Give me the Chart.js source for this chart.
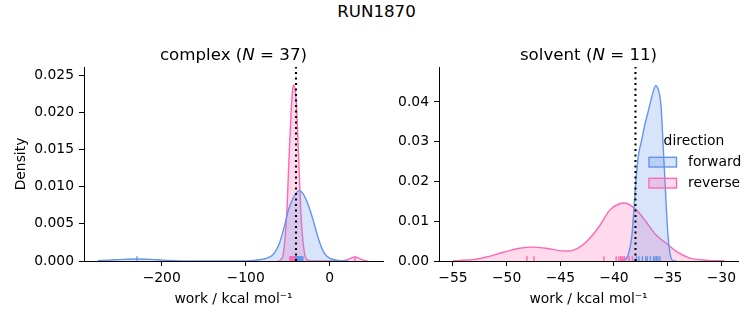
<!DOCTYPE html>
<html>
<head>
<meta charset="utf-8">
<script src="https://cdn.jsdelivr.net/npm/chart.js@4.4.1/dist/chart.umd.min.js"></script>
<style>
  html, body { margin: 0; padding: 0; background: #fff; }
  #wrap { position: relative; width: 753px; height: 325px; overflow: hidden; }
  #suptitle { position: absolute; left: 0; top: 2px; width: 753px; text-align: center;
              font-family: 'DejaVu Sans'; font-size: 16.67px; line-height: 20px; color: #000; }
  canvas { position: absolute; top: 0; }
</style>
</head>
<body>
<div id="wrap">
  <div id="suptitle">RUN1870</div>
  <canvas id="complexChart" width="390" height="325" style="left:0;width:390px;height:325px"></canvas>
  <canvas id="solventChart" width="373" height="325" style="left:380px;width:373px;height:325px"></canvas>
</div>
<script>
// ---- complex panel: KDE curves ----
const complexForwardX = [-276, -262, -246, -230, -214, -198, -184, -170, -150, -120, -100, -90, -82, -77, -69, -64, -59.5, -56.5, -53.6, -48.8, -43.7, -40, -36.1, -32, -28.6, -23.8, -21, -17.9, -15, -11.9, -8, -4, 0, 4, 10, 16, 22];
const complexForwardY = [0.00004, 0.00012, 0.00022, 0.00027, 0.00022, 0.00012, 0.00005, 0.00001, 0, 0, 0.00002, 0.00008, 0.0002, 0.0003, 0.0007, 0.0014, 0.0025, 0.0036, 0.0048, 0.0070, 0.0084, 0.0091, 0.0095, 0.0091, 0.0084, 0.0070, 0.0060, 0.0048, 0.0036, 0.0025, 0.0014, 0.0007, 0.0004, 0.0002, 0.00006, 0.00001, 0];
const complexReverseX = [-62, -59.5, -57.5, -55.6, -52.8, -50.8, -49.2, -47.6, -45.6, -44, -42.9, -41.5, -40.5, -39.3, -37.7, -36.1, -34.5, -32.5, -29.4, -27, -24, -20, 10, 16, 20, 24, 27, 30, 33, 36, 40, 44, 45];
const complexReverseY = [0, 0.00005, 0.0003, 0.0007, 0.0035, 0.0070, 0.0116, 0.0160, 0.0206, 0.0232, 0.0237, 0.0232, 0.0224, 0.0206, 0.0160, 0.0116, 0.0070, 0.0035, 0.0007, 0.0002, 0.00003, 0, 0, 0.00003, 0.00012, 0.0003, 0.00046, 0.00056, 0.00046, 0.0003, 0.00012, 0.00003, 0];
const complexForwardRug = [-229.4, -40.4, -39.6, -38.9, -38.1, -37.4, -36.6, -35.8, -35.0, -34.3, -33.5, -32.7, -31.9];
const complexReverseRug = [-47.5, -46.8, -46.0, -45.3, -44.8, -44.1, -43.6, -43.0, -42.5, -42.0, -41.6, -41.1, -40.6, 30.1];
const complexFreeEnergy = -40.1;
const complexXRange = [-292.5, 63.5];
const complexYMax = 0.0261;
const complexXTicks = [-200, -100, 0];
const complexYTicks = [0, 0.005, 0.010, 0.015, 0.020, 0.025];

// ---- solvent panel ----
const solventForwardX = [-39.4, -39.17, -38.7, -38.33, -38.14, -37.92, -37.67, -37.45, -37.14, -36.74, -36.43, -36.12, -35.75, -35.6, -35.44, -35.28, -35.12, -34.97, -34.75, -34.5, -34.2];
const solventForwardY = [0, 0.0001, 0.0014, 0.0065, 0.0132, 0.0216, 0.0275, 0.0300, 0.0342, 0.0384, 0.0418, 0.0441, 0.0418, 0.0384, 0.0300, 0.0216, 0.0132, 0.0065, 0.0014, 0.0001, 0];
const solventReverseX = [-55.0, -54, -53.1, -51.9, -50.3, -48.8, -47.6, -46.3, -45.1, -44.3, -43.2, -42.3, -41.3, -40.4, -39.5, -39.0, -37.9, -37.0, -36.1, -35.1, -34.2, -33.0, -31.4, -29.7];
const solventReverseY = [0.00005, 0.0002, 0.00035, 0.0010, 0.0022, 0.0032, 0.0035, 0.0032, 0.0026, 0.0025, 0.0035, 0.0056, 0.0090, 0.0128, 0.0144, 0.0146, 0.0128, 0.0098, 0.0066, 0.0044, 0.0024, 0.0008, 0.0002, 0.00002];
const solventForwardRug = [-37.9, -37.68, -37.36, -37.05, -36.9, -36.61, -36.3, -36.18, -36.03, -35.9, -35.72];
const solventReverseRug = [-48.11, -47.46, -40.94, -39.8, -39.54, -39.38, -39.25, -39.17, -39.03, -38.6, -38.29];
const solventFreeEnergy = -38.0;
const solventXRange = [-56.3, -28.45];
const solventYMax = 0.0488;
const solventXTicks = [-55, -50, -45, -40, -35, -30];
const solventYTicks = [0, 0.01, 0.02, 0.03, 0.04];

const directions = ['forward', 'reverse'];
const BLUE = '#6495ED';
const PINK = '#FF69B4';
const BLUE_FILL = 'rgba(100,149,237,0.25)';
const PINK_FILL = 'rgba(255,105,180,0.25)';
const FONT = 'DejaVu Sans';

const pts = (xs, ys) => xs.map((x, i) => ({ x: x, y: ys[i] }));
const fmt = (v, d) => (v < 0 ? '\u2212' : '') + Math.abs(v).toFixed(d);

// title with italic N (matplotlib mathtext)
const panelTitle = {
  id: 'panelTitle',
  afterDraw(chart, args, opts) {
    const { ctx, chartArea } = chart;
    ctx.save();
    ctx.fillStyle = '#000';
    ctx.textBaseline = 'alphabetic';
    const fonts = opts.parts.map(p => (p[1] ? 'italic ' : '') + '16.67px "' + FONT + '"');
    const widths = opts.parts.map((p, i) => { ctx.font = fonts[i]; return ctx.measureText(p[0]).width; });
    let x = (chartArea.left + chartArea.right) / 2 - widths.reduce((a, b) => a + b, 0) / 2;
    const y = chartArea.top - 7.3;
    opts.parts.forEach((p, i) => { ctx.font = fonts[i]; ctx.fillText(p[0], x, y); x += widths[i]; });
    ctx.restore();
  }
};

// rug ticks, drawn once the KDE layers are down (dataset 0 is the dotted line)
const rug = {
  id: 'rug',
  afterDatasetDraw(chart, args, opts) {
    if (args.index !== 1) return;
    const { ctx, chartArea, scales } = chart;
    const h = (chartArea.bottom - chartArea.top) * 0.025;
    ctx.save();
    ctx.lineWidth = 1.4;
    opts.sets.forEach(set => {
      ctx.strokeStyle = set.color;
      set.values.forEach(v => {
        const x = scales.x.getPixelForValue(v);
        ctx.beginPath();
        ctx.moveTo(x, chartArea.bottom);
        ctx.lineTo(x, chartArea.bottom - h);
        ctx.stroke();
      });
    });
    ctx.restore();
  }
};

// seaborn-style hue legend, no frame
const hueLegend = {
  id: 'hueLegend',
  afterDraw(chart, args, opts) {
    if (!opts.show) return;
    const { ctx, chartArea } = chart;
    const left = chartArea.right - 89;
    ctx.save();
    ctx.fillStyle = '#000';
    ctx.font = '13.89px "' + FONT + '"';
    ctx.textAlign = 'center';
    ctx.textBaseline = 'middle';
    ctx.fillText('direction', chartArea.right - 44, chartArea.top + 74.5);
    const items = [[directions[0], BLUE, BLUE_FILL], [directions[1], PINK, PINK_FILL]];
    items.forEach((it, i) => {
      const top = chartArea.top + 90.3 + i * 21;
      ctx.fillStyle = it[2];
      ctx.fillRect(left, top, 27.5, 9.7);
      ctx.strokeStyle = it[1];
      ctx.lineWidth = 1.4;
      ctx.strokeRect(left, top, 27.5, 9.7);
      ctx.fillStyle = '#000';
      ctx.textAlign = 'left';
      ctx.fillText(it[0], left + 39, top + 5);
    });
    ctx.restore();
  }
};

function panel(id, o) {
  const tickFont = { family: FONT, size: 13.89 };
  return new Chart(document.getElementById(id), {
    type: 'line',
    data: {
      datasets: [
        { data: [{ x: o.dG, y: 0 }, { x: o.dG, y: o.yMax }], borderColor: '#000', borderWidth: 2.1,
          borderDash: [2.1, 3.4], fill: false, pointRadius: 0, tension: 0 },
        { label: directions[0], data: pts(o.fx, o.fy), borderColor: BLUE, backgroundColor: BLUE_FILL,
          borderWidth: 1.4, fill: 'origin', pointRadius: 0, cubicInterpolationMode: 'monotone' },
        { label: directions[1], data: pts(o.rx, o.ry), borderColor: PINK, backgroundColor: PINK_FILL,
          borderWidth: 1.4, fill: 'origin', pointRadius: 0, cubicInterpolationMode: 'monotone' }
      ]
    },
    options: {
      responsive: false,
      devicePixelRatio: 1,
      animation: false,
      events: [],
      layout: { padding: { top: 67, right: o.padRight, left: 0, bottom: 0 } },
      plugins: {
        legend: { display: false },
        tooltip: { enabled: false },
        panelTitle: { parts: o.title },
        rug: { sets: [{ values: o.rRug, color: PINK }, { values: o.fRug, color: BLUE }] },
        hueLegend: { show: o.legend }
      },
      scales: {
        x: {
          type: 'linear', min: o.xRange[0], max: o.xRange[1], z: 1,
          afterBuildTicks: s => { s.ticks = o.xTicks.map(v => ({ value: v })); },
          afterFit: s => { s.height = 64; },
          ticks: { callback: v => fmt(v, 0), font: tickFont, color: '#000', padding: 4, maxRotation: 0, autoSkip: false },
          grid: { display: true, drawOnChartArea: false, drawTicks: true, tickLength: 5, tickColor: '#000', tickWidth: 1 },
          border: { display: true, color: '#000', width: 1 },
          title: { display: true, text: 'work / kcal mol\u207B\u00B9', font: tickFont, color: '#000', padding: { top: 0, bottom: 17 } }
        },
        y: {
          type: 'linear', min: 0, max: o.yMax, z: 1,
          afterBuildTicks: s => { s.ticks = o.yTicks.map(v => ({ value: v })); },
          afterFit: s => { s.width = o.yWidth; },
          ticks: { callback: v => fmt(v, o.yDec), font: tickFont, color: '#000', padding: 5, autoSkip: false },
          grid: { display: true, drawOnChartArea: false, drawTicks: true, tickLength: 5, tickColor: '#000', tickWidth: 1 },
          border: { display: true, color: '#000', width: 1 },
          title: { display: o.yTitle, text: 'Density', font: tickFont, color: '#000', padding: { top: 13, bottom: 0 } }
        }
      }
    },
    plugins: [panelTitle, rug, hueLegend]
  });
}

panel('complexChart', {
  dG: complexFreeEnergy, yMax: complexYMax, xRange: complexXRange,
  fx: complexForwardX, fy: complexForwardY, rx: complexReverseX, ry: complexReverseY,
  fRug: complexForwardRug, rRug: complexReverseRug,
  xTicks: complexXTicks, yTicks: complexYTicks, yDec: 3, yWidth: 84, padRight: 7, yTitle: true,
  title: [['complex (', false], ['N', true], [' = 37)', false]], legend: false
});

panel('solventChart', {
  dG: solventFreeEnergy, yMax: solventYMax, xRange: solventXRange,
  fx: solventForwardX, fy: solventForwardY, rx: solventReverseX, ry: solventReverseY,
  fRug: solventForwardRug, rRug: solventReverseRug,
  xTicks: solventXTicks, yTicks: solventYTicks, yDec: 2, yWidth: 59, padRight: 15, yTitle: false,
  title: [['solvent (', false], ['N', true], [' = 11)', false]], legend: true
});
</script>
</body>
</html>
